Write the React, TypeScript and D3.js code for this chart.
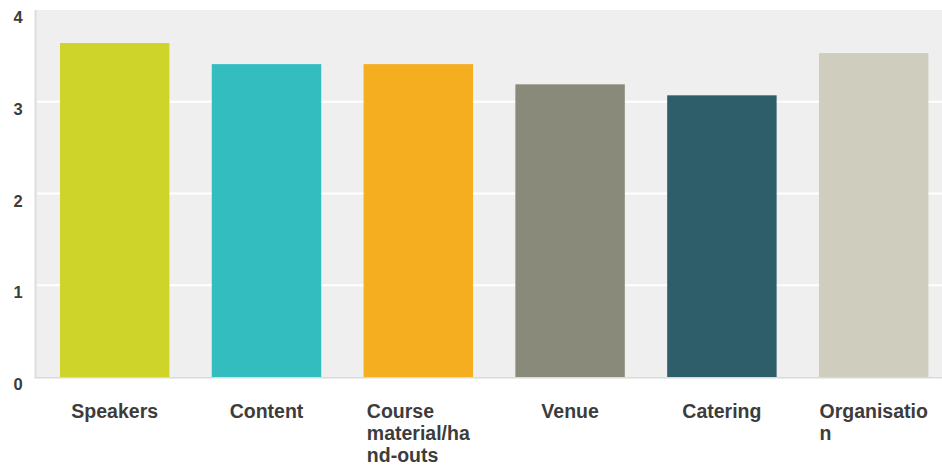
import React, { useEffect, useRef } from "react";
import * as d3 from "d3";

const categories = ["Speakers", "Content", "Course material/hand-outs", "Venue", "Catering", "Organisation"];
const labelLines = [["Speakers"], ["Content"], ["Course", "material/ha", "nd-outs"], ["Venue"], ["Catering"], ["Organisatio", "n"]];
const values = [3.64, 3.41, 3.41, 3.19, 3.07, 3.53];
const colors = ["#cfd42a", "#33bdbf", "#f5ae20", "#8a8a7a", "#2e5e6a", "#cfcdbe"];
const yTicks = [0, 1, 2, 3, 4];

const W = 942;
const H = 468;

export default function App() {
  const ref = useRef<SVGSVGElement | null>(null);

  useEffect(() => {
    const svg = d3.select(ref.current);
    svg.selectAll("*").remove();

    const x = d3.scaleBand<string>().domain(categories).range([38.8, 949.6]).paddingInner(0.279).paddingOuter(0.1395);
    const y = d3.scaleLinear().domain([0, 4]).range([377, 10]);

    svg.append("rect").attr("x", 36).attr("y", 10).attr("width", W - 36).attr("height", 367).attr("fill", "#efefef");
    svg.append("rect").attr("x", 34.5).attr("y", 10).attr("width", 2).attr("height", 368).attr("fill", "#dedede");
    svg.append("rect").attr("x", 34.5).attr("y", 377).attr("width", W - 34.5).attr("height", 1.5).attr("fill", "#dadada");

    svg.append("g").selectAll("line").data(yTicks.filter(t => t > 0 && t < 4)).join("line")
      .attr("x1", 37).attr("x2", W).attr("y1", d => y(d)).attr("y2", d => y(d))
      .attr("stroke", "#ffffff").attr("stroke-width", 2);

    svg.append("g").selectAll("rect").data(values).join("rect")
      .attr("x", (_, i) => x(categories[i])!)
      .attr("y", d => y(d))
      .attr("width", x.bandwidth())
      .attr("height", d => y(0) - y(d))
      .attr("fill", (_, i) => colors[i]);

    svg.append("g").selectAll("text").data(yTicks).join("text")
      .attr("x", 18).attr("y", d => y(d) + 13)
      .attr("text-anchor", "middle")
      .attr("font-family", "'Liberation Sans', Arial, sans-serif")
      .attr("font-weight", "bold").attr("font-size", 16.5)
      .attr("fill", "#3c3c3c")
      .text(d => String(d));

    const lg = svg.append("g")
      .attr("font-family", "'Liberation Sans', Arial, sans-serif")
      .attr("font-weight", "bold").attr("font-size", 19.5)
      .attr("fill", "#3c3c3c");
    labelLines.forEach((lines, i) => {
      const cx = x(categories[i])! + x.bandwidth() / 2;
      const t = lg.append("text").attr("text-anchor", "start");
      const spans = lines.map((ln, j) =>
        t.append("tspan").attr("x", cx).attr("y", 418 + j * 22).text(ln)
      );
      const widths = spans.map(s => (s.node() as SVGTSpanElement).getComputedTextLength());
      const maxW = Math.max(...widths);
      spans.forEach(s => s.attr("x", cx - maxW / 2));
    });
  }, []);

  return (
    <svg ref={ref} width={W} height={H} style={{ position: "fixed", left: 0, top: 0, background: "#ffffff" }} />
  );
}
